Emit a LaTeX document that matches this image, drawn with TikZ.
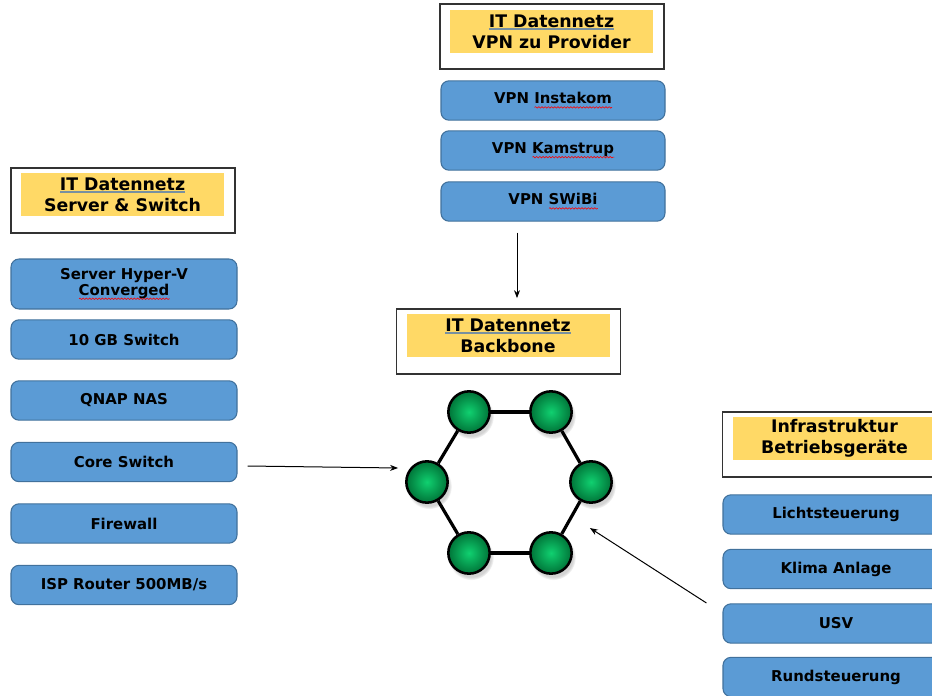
\documentclass[tikz,border=0pt]{standalone}
\usepackage{fontspec}
\setmainfont{DejaVu Sans}
\usetikzlibrary{arrows.meta,shadows,decorations.pathmorphing}

\definecolor{boxblue}{HTML}{5B9BD5}
\definecolor{boxedge}{HTML}{41719C}
\definecolor{hdryellow}{HTML}{FFD966}
\definecolor{ulgray}{HTML}{7890A0}
\definecolor{ballin}{HTML}{10D070}
\definecolor{ballout}{HTML}{007438}

\newsavebox\wbox
\newcommand\redwave[1]{\sbox\wbox{#1}\leavevmode\rlap{\tikz[baseline=0pt]\draw[sharp corners, red, line width=0.45pt, decorate,
  decoration={snake, amplitude=0.55pt, segment length=2.4pt}] (0pt,-2.6pt) -- (\wd\wbox,-2.6pt);}\usebox\wbox}
\newcommand\hdrline[1]{\sbox\wbox{#1}\leavevmode\rlap{\tikz[baseline=0pt]\fill[sharp corners, ulgray] (0pt,-2.4pt) rectangle (\wd\wbox,-0.3pt);}\usebox\wbox}

\tikzset{
  hdr/.style={draw=black!80, line width=1.3pt, fill=white, minimum width=168pt, minimum height=48.75pt, inner sep=0pt},
  ybox/.style={fill=hdryellow, minimum width=152.25pt, minimum height=32.25pt, inner sep=0pt, align=center,
    font=\fontsize{13}{15.8}\selectfont\bfseries},
  bbox/.style={draw=boxedge, fill=boxblue, rounded corners=6pt, line width=0.8pt, minimum width=169.5pt,
    minimum height=29.5pt, inner sep=0pt, align=center, font=\fontsize{11.2}{12}\selectfont\bfseries},
  vbox/.style={bbox, minimum width=168pt},
  hexn/.style={circle, draw=black, line width=1.9pt, minimum size=31pt, inner sep=0pt,
    inner color=ballin, outer color=ballout,
    circular drop shadow={shadow xshift=1.5pt, shadow yshift=-3pt, opacity=0.35}},
  hexedge/.style={line width=2.4pt, black},
  arr/.style={line width=0.75pt, black, -{Stealth[length=6pt,width=4.5pt]}}
}

\begin{document}
\begin{tikzpicture}[x=0.75pt, y=-0.75pt]
\useasboundingbox (0,0) rectangle (932,696);
\clip (0,0) rectangle (932,696);

% left column
\node[hdr] (hdrL) at (123,200.5) {};
\node[ybox] (yL) at (122.5,194.5) {\hdrline{IT Datennetz}\\Server \& Switch};
\node[bbox, minimum height=37.5pt] (srv) at (124,284) {Server Hyper-V\\\redwave{Converged}};
\node[bbox] (sw10) at (124,339.5) {10 GB Switch};
\node[bbox] (qnap) at (124,400.5) {QNAP NAS};
\node[bbox] (core) at (124,462) {Core Switch};
\node[bbox] (fw) at (124,523.5) {Firewall};
\node[bbox] (isp) at (124,585) {ISP Router 500MB/s};

% top column
\node[hdr] (hdrT) at (552,36.5) {};
\node[ybox] (yT) at (551.5,31.5) {\hdrline{IT Datennetz}\\VPN zu Provider};
\node[vbox] (insta) at (553,100.5) {VPN \redwave{Instakom}};
\node[vbox] (kam) at (553,150.5) {VPN \redwave{Kamstrup}};
\node[vbox] (swibi) at (553,201.5) {VPN \redwave{SWiBi}};

% backbone
\node[hdr] (hdrB) at (508.5,341.5) {};
\node[ybox] (yB) at (508,335.5) {\hdrline{IT Datennetz}\\Backbone};

\node[hexn] (hTL) at (469,412) {};
\node[hexn] (hTR) at (551,412) {};
\node[hexn] (hL)  at (427,482) {};
\node[hexn] (hR)  at (591,482) {};
\node[hexn] (hBL) at (469,553) {};
\node[hexn] (hBR) at (551,553) {};
\draw[hexedge] (hTL) -- (hTR);
\draw[hexedge] (hTR) -- (hR);
\draw[hexedge] (hR) -- (hBR);
\draw[hexedge] (hBR) -- (hBL);
\draw[hexedge] (hBL) -- (hL);
\draw[hexedge] (hL) -- (hTL);

% right column
\node[hdr] (hdrR) at (834.5,444.5) {};
\node[ybox] (yR) at (834.5,438.5) {Infrastruktur\\Betriebsgeräte};
\node[bbox] (licht) at (836,514.5) {Lichtsteuerung};
\node[bbox] (klima) at (836,569) {Klima Anlage};
\node[bbox] (usv) at (836,623.5) {USV};
\node[bbox] (rund) at (836,677) {Rundsteuerung};

% connectors
\draw[arr] ([shift={(-36,11)}]swibi.south) -- ([shift={(8.5,-10)}]hdrB.north);
\draw[arr] ([shift={(10,4)}]core.east) -- ([shift={(-7,-14)}]hL.west);
\draw[arr] ([shift={(-16,-20.5)}]usv.west) -- ([shift={(17,-25)}]hBR.east);
\end{tikzpicture}
\end{document}
